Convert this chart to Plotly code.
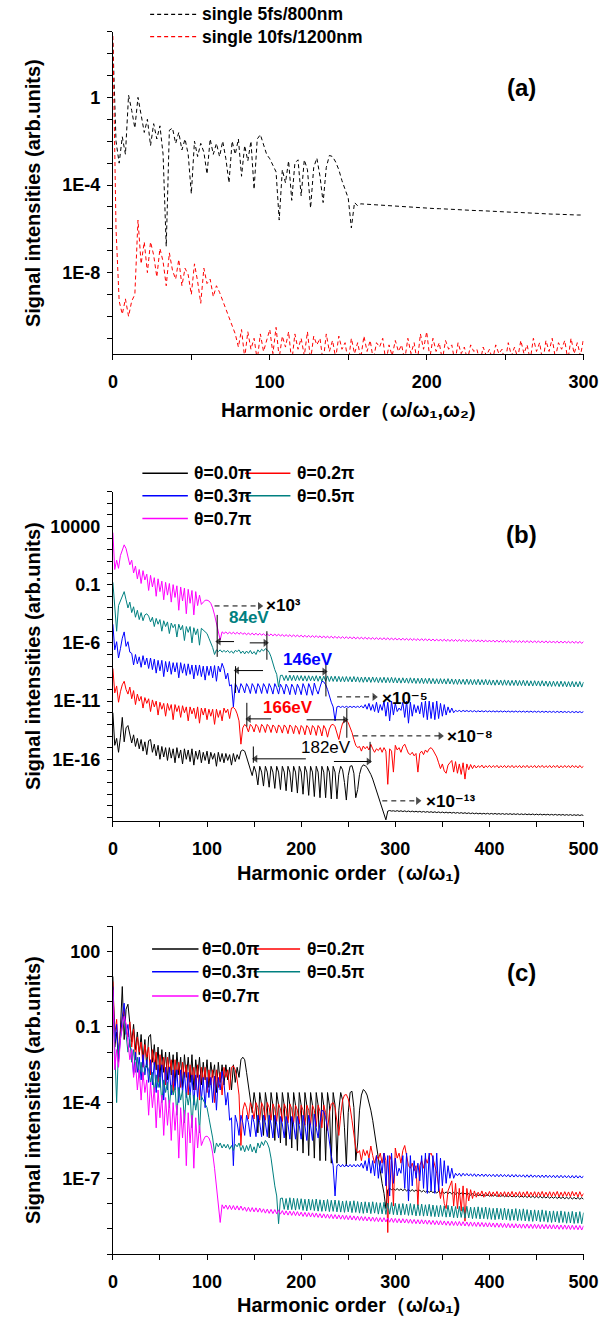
import numpy as np
import plotly.graph_objects as go

W, H = 616, 1319
FONT = "Arial, Liberation Sans, DejaVu Sans, Helvetica, sans-serif"

# ---------------- Panel (a): log10 of signal intensity, harmonic orders 0,2,4,...,300
a_names = ["single 5fs/800nm", "single 10fs/1200nm"]
a_colors = ["#000000", "#FF0000"]
a_lg_5fs = [
    2.5, -2.0, -3.0, -1.8, -2.6, 0.1, -0.6, -1.4, 0.0, -0.9,
    -1.6, -1.0, -2.2, -1.2, -1.9, -1.3, -2.6, -6.8, -1.5, -1.4,
    -2.1, -1.6, -2.4, -1.9, -2.6, -4.4, -2.0, -2.7, -2.1, -2.5,
    -3.5, -1.9, -2.6, -2.1, -2.7, -2.0, -2.8, -3.9, -2.0, -2.6,
    -1.9, -3.6, -2.2, -2.9, -2.0, -4.2, -1.9, -1.7, -2.2, -2.6,
    -2.8, -3.1, -3.4, -5.6, -3.3, -3.9, -2.9, -4.7, -3.0, -2.85,
    -4.5, -2.85, -3.3, -5.05, -3.2, -2.77, -3.6, -4.8, -3.2, -2.65,
    -2.7, -2.95, -3.3, -3.8, -4.2, -4.6, -5.96, -4.8, -4.95, -4.86,
    -4.87, -4.88, -4.9, -4.91, -4.92, -4.93, -4.94, -4.95, -4.96, -4.97,
    -4.97, -4.98, -4.99, -5.0, -5.01, -5.02, -5.02, -5.03, -5.04, -5.05,
    -5.05, -5.06, -5.07, -5.08, -5.08, -5.09, -5.1, -5.11, -5.11, -5.12,
    -5.13, -5.13, -5.14, -5.15, -5.15, -5.16, -5.17, -5.17, -5.18, -5.19,
    -5.19, -5.2, -5.21, -5.21, -5.22, -5.23, -5.23, -5.24, -5.25, -5.25,
    -5.26, -5.27, -5.27, -5.28, -5.29, -5.29, -5.3, -5.31, -5.31, -5.32,
    -5.33, -5.33, -5.34, -5.34, -5.35, -5.35, -5.36, -5.36, -5.37, -5.37,
    -5.38,
]
a_lg_10fs = [
    2.8, -6.0, -9.3, -9.9, -9.2, -10.0, -9.3, -9.0, -5.6, -7.6,
    -6.6, -8.0, -6.6, -7.2, -8.2, -6.9, -7.5, -8.6, -7.1, -7.9,
    -8.3, -7.4, -8.6, -7.8, -8.1, -9.0, -7.6, -8.4, -9.4, -7.8,
    -8.5, -8.3, -9.1, -8.6, -8.9, -9.3, -9.6, -10.0, -10.4, -10.8,
    -11.4, -10.6, -11.9, -10.7, -11.5, -11.0, -12.0, -10.8, -11.6, -11.1,
    -10.6, -11.7, -10.5, -11.9, -10.9, -11.4, -10.7, -12.1, -10.8, -11.5,
    -11.0, -11.8, -10.7, -12.0, -10.9, -11.3, -11.0, -12.1, -10.8, -11.6,
    -11.1, -11.9, -10.9, -11.5, -11.2, -12.1, -11.0, -11.7, -11.2, -11.9,
    -10.9, -11.6, -11.1, -12.0, -11.2, -11.4, -11.0, -12.1, -11.3, -11.8,
    -11.1, -11.6, -11.3, -12.0, -11.0, -11.7, -11.2, -12.1, -10.8, -11.5,
    -10.7, -11.9, -11.0, -11.6, -11.2, -12.0, -11.1, -11.5, -11.3, -12.1,
    -11.2, -11.7, -11.4, -12.0, -11.3, -11.6, -11.5, -12.1, -11.4, -11.8,
    -11.5, -12.0, -11.3, -11.7, -11.5, -12.1, -11.2, -11.8, -11.4, -11.9,
    -11.1, -11.7, -11.3, -12.0, -11.0, -11.6, -11.2, -12.1, -11.1, -11.6,
    -11.0, -11.9, -11.2, -11.5, -11.1, -12.0, -11.0, -11.7, -11.2, -11.8,
    -11.0,
]

# ---------------- Panels (b)/(c): log10 intensity, harmonic orders 0,2,...,500
theta_labels = ["θ=0.0π", "θ=0.2π", "θ=0.3π", "θ=0.5π", "θ=0.7π"]
theta_colors = ["#000000", "#FF0000", "#0000FF", "#008080", "#FF00FF"]
# decade shift used for each curve in panel (b)
b_shift_decades = [-13, -9, -5, -1, 3]

lg_theta00 = [
    1.0, -1.8, -1.2, -2.4, -1.1, 0.6, -1.5, -0.3, -0.1, -0.9,
    -1.6, -0.9, -1.9, -1.2, -2.1, -1.3, -2.3, -1.5, -2.6, -1.4,
    -1.3, -2.4, -1.7, -2.7, -1.8, -3.0, -1.9, -2.8, -2.0, -3.1,
    -2.0, -2.9, -2.1, -3.3, -2.0, -2.9, -2.2, -3.4, -2.1, -3.0,
    -2.2, -3.2, -2.1, -3.5, -2.3, -3.0, -2.2, -3.3, -2.4, -3.1,
    -2.3, -3.4, -2.4, -3.0, -2.5, -3.6, -2.4, -3.2, -2.5, -3.3,
    -2.5, -3.1, -2.6, -3.5, -2.5, -3.2, -2.6, -3.0, -2.3, -2.2,
    -2.3, -2.8, -3.4, -4.0, -4.4, -3.6, -4.1, -5.2, -3.6, -4.1,
    -5.3, -3.6, -4.1, -5.4, -3.6, -4.1, -5.5, -3.6, -4.1, -5.6,
    -3.6, -4.1, -5.7, -3.6, -4.1, -5.8, -3.6, -4.1, -5.9, -3.6,
    -4.1, -6.0, -3.6, -4.1, -6.1, -3.6, -4.1, -6.2, -3.6, -4.1,
    -6.3, -3.6, -4.1, -6.3, -3.6, -4.1, -6.4, -3.6, -4.1, -6.4,
    -4.3, -3.6, -3.9, -5.0, -6.5, -4.4, -3.6, -3.55, -4.2, -6.3,
    -5.6, -4.3, -3.7, -3.48, -3.55, -3.7, -3.95, -4.3, -4.7, -5.2,
    -5.7, -6.2, -6.8, -7.2, -7.6, -8.2, -7.45, -7.4, -7.45, -7.42,
    -7.47, -7.41, -7.48, -7.42, -7.49, -7.43, -7.5, -7.44, -7.51, -7.45,
    -7.52, -7.46, -7.53, -7.47, -7.54, -7.48, -7.55, -7.49, -7.56, -7.5,
    -7.57, -7.51, -7.58, -7.52, -7.59, -7.53, -7.6, -7.54, -7.61, -7.55,
    -7.62, -7.56, -7.63, -7.57, -7.64, -7.58, -7.65, -7.59, -7.66, -7.6,
    -7.67, -7.61, -7.68, -7.62, -7.69, -7.63, -7.7, -7.64, -7.7, -7.64,
    -7.71, -7.65, -7.71, -7.65, -7.72, -7.66, -7.72, -7.66, -7.73, -7.67,
    -7.73, -7.67, -7.74, -7.68, -7.74, -7.68, -7.75, -7.69, -7.75, -7.69,
    -7.76, -7.7, -7.76, -7.7, -7.77, -7.71, -7.77, -7.71, -7.78, -7.72,
    -7.78, -7.72, -7.79, -7.73, -7.79, -7.73, -7.8, -7.74, -7.8, -7.74,
    -7.81, -7.75, -7.81, -7.75, -7.82, -7.76, -7.82, -7.76, -7.83, -7.77,
    -7.83,
]
lg_theta02 = [
    0.8, -1.3, -0.7, -2.1, -1.2, -0.6, -0.3, -1.0, -1.4, -0.8,
    -1.8, -1.1, -2.3, -1.4, -2.0, -1.6, -2.6, -1.7, -2.2, -1.8,
    -2.9, -1.9, -2.5, -2.0, -3.2, -2.1, -2.7, -2.2, -3.3, -2.2,
    -2.8, -2.3, -3.6, -2.3, -2.9, -2.4, -3.4, -2.4, -3.0, -2.5,
    -3.7, -2.5, -3.1, -2.6, -3.5, -2.5, -3.9, -2.6, -3.2, -2.6,
    -3.6, -2.7, -3.3, -2.7, -4.0, -2.7, -3.4, -2.8, -3.7, -2.6,
    -3.0, -2.7, -3.5, -2.6, -2.55, -2.7, -3.1, -3.7, -5.7, -4.3,
    -4.0, -4.2, -4.65, -4.0, -4.2, -4.65, -4.0, -4.2, -4.7, -4.0,
    -4.2, -4.7, -4.0, -4.2, -4.7, -4.05, -4.25, -4.75, -4.05, -4.25,
    -4.75, -4.05, -4.25, -4.8, -4.05, -4.25, -4.8, -4.1, -4.3, -4.85,
    -4.1, -4.3, -4.9, -4.1, -4.3, -4.9, -4.1, -4.3, -4.95, -4.1,
    -4.35, -5.0, -4.1, -4.4, -5.1, -4.4, -4.05, -4.0, -4.2, -4.8,
    -5.3, -4.5, -3.9, -3.7, -3.68, -3.85, -4.2, -4.7, -5.3, -5.8,
    -6.0, -5.9, -6.3, -5.86, -6.1, -5.9, -6.2, -5.72, -6.1, -6.4,
    -6.1, -6.25, -6.0, -6.4, -6.0, -6.3, -9.15, -6.1, -6.3, -8.1,
    -5.8, -6.2, -6.0, -6.4, -5.9, -5.7, -6.1, -6.5, -6.6, -6.4,
    -6.7, -6.5, -8.1, -6.5, -6.3, -6.6, -6.2, -6.4, -6.1, -6.0,
    -6.2, -6.5, -6.8, -7.3, -7.8, -7.4, -8.0, -8.2, -7.5, -7.3,
    -7.1, -8.1, -7.2, -8.2, -7.4, -8.3, -7.3, -8.7, -7.4, -7.9,
    -7.45, -7.8, -7.5, -7.75, -7.55, -7.7, -7.5, -7.75, -7.55, -7.7,
    -7.52, -7.72, -7.54, -7.7, -7.52, -7.74, -7.55, -7.71, -7.53, -7.73,
    -7.54, -7.71, -7.52, -7.73, -7.55, -7.7, -7.53, -7.74, -7.54, -7.71,
    -7.52, -7.73, -7.55, -7.71, -7.53, -7.74, -7.54, -7.7, -7.52, -7.72,
    -7.55, -7.71, -7.53, -7.73, -7.54, -7.7, -7.52, -7.74, -7.55, -7.72,
    -7.53, -7.71, -7.54, -7.73, -7.52, -7.7, -7.55, -7.74, -7.53, -7.72,
    -7.6,
]
lg_theta03 = [
    0.6, -1.6, -0.9, -2.3, -1.5, -0.6, -0.06, -1.3, -0.9, -1.8,
    -1.9, -2.9, -2.0, -2.8, -2.2, -3.1, -2.1, -2.9, -2.3, -3.2,
    -2.3, -3.3, -2.4, -3.6, -2.5, -3.4, -2.5, -3.9, -2.6, -3.5,
    -2.6, -3.7, -2.7, -3.5, -2.7, -4.0, -2.7, -3.6, -2.8, -3.8,
    -2.8, -3.7, -2.9, -4.1, -2.9, -3.8, -2.9, -3.9, -3.0, -4.2,
    -3.0, -3.8, -3.0, -4.0, -2.95, -4.3, -3.0, -3.5, -2.76, -3.2,
    -4.1, -3.6, -4.7, -4.6, -6.5, -4.5, -4.8, -5.3, -4.5, -4.8,
    -5.3, -4.5, -4.8, -5.35, -4.5, -4.8, -5.35, -4.5, -4.8, -5.35,
    -4.5, -4.8, -5.35, -4.5, -4.85, -5.4, -4.5, -4.85, -5.4, -4.55,
    -4.85, -5.4, -4.55, -4.85, -5.45, -4.55, -4.85, -5.45, -4.55, -4.9,
    -5.45, -4.5, -4.9, -5.5, -4.5, -4.9, -5.5, -4.45, -5.0, -5.4,
    -4.8, -4.3, -4.35, -4.6, -5.0, -5.6, -6.1, -6.5, -7.7, -6.5,
    -6.45, -6.55, -6.45, -6.55, -6.45, -6.55, -6.45, -6.55, -6.45, -6.55,
    -6.45, -6.55, -6.4, -6.6, -6.3, -6.7, -6.2, -6.8, -6.3, -6.9,
    -6.1, -7.0, -6.3, -6.8, -6.0, -7.3, -6.1, -7.7, -6.0, -7.2,
    -6.2, -6.9, -6.6, -6.8, -6.1, -7.4, -6.0, -7.9, -6.1, -7.3,
    -6.3, -7.0, -6.4, -7.1, -6.1, -7.4, -6.0, -7.6, -6.0, -7.5,
    -6.1, -7.6, -6.0, -7.5, -6.2, -7.3, -6.3, -7.2, -6.5, -7.0,
    -6.6, -7.0, -6.8, -6.9, -6.8, -6.92, -6.8, -6.9, -6.81, -6.91,
    -6.82, -6.92, -6.82, -6.93, -6.83, -6.92, -6.83, -6.93, -6.83, -6.93,
    -6.84, -6.93, -6.84, -6.94, -6.84, -6.94, -6.84, -6.94, -6.85, -6.94,
    -6.85, -6.95, -6.85, -6.95, -6.85, -6.95, -6.86, -6.95, -6.86, -6.96,
    -6.86, -6.96, -6.86, -6.96, -6.87, -6.96, -6.87, -6.97, -6.87, -6.97,
    -6.87, -6.97, -6.88, -6.97, -6.88, -6.98, -6.88, -6.98, -6.88, -6.98,
    -6.89, -6.98, -6.89, -6.99, -6.89, -6.99, -6.89, -6.99, -6.9, -6.99,
    -6.9,
]
lg_theta05 = [
    0.2, -2.4, -4.0, -1.8, -1.4, -1.0, -0.6, -1.3, -2.0, -1.5,
    -2.4, -1.9, -2.8, -2.2, -3.0, -2.4, -3.1, -2.6, -2.5, -2.7,
    -3.2, -2.8, -3.6, -2.9, -3.4, -3.0, -4.0, -3.1, -3.6, -3.2,
    -4.2, -3.3, -3.7, -3.4, -4.5, -3.4, -3.9, -3.5, -4.8, -3.6,
    -4.1, -3.6, -5.0, -3.7, -4.3, -3.8, -5.2, -3.75, -3.9, -4.0,
    -4.2, -4.6, -5.0, -5.4, -6.0, -5.6, -5.75, -5.6, -5.8, -5.65,
    -5.8, -5.65, -5.85, -5.7, -5.9, -5.65, -5.75, -5.6, -5.9, -5.7,
    -5.95, -5.7, -5.9, -5.65, -5.95, -5.75, -6.0, -5.6, -5.8, -5.55,
    -5.7, -5.5, -5.6, -5.8, -6.2, -6.8, -7.3, -7.7, -8.8, -7.8,
    -7.78, -8.23, -7.8, -8.25, -7.77, -8.24, -7.79, -8.26, -7.8, -8.23,
    -7.81, -8.27, -7.83, -8.29, -7.82, -8.26, -7.84, -8.28, -7.82, -8.3,
    -7.85, -8.31, -7.86, -8.3, -7.84, -8.32, -7.87, -8.31, -7.86, -8.33,
    -7.88, -8.34, -7.9, -8.35, -7.89, -8.33, -7.91, -8.36, -7.89, -8.35,
    -7.92, -8.38, -7.94, -8.39, -7.93, -8.37, -7.95, -8.4, -7.93, -8.38,
    -7.96, -8.42, -7.97, -8.41, -7.95, -8.43, -7.98, -8.42, -7.96, -8.44,
    -7.99, -8.45, -8.01, -8.46, -8.0, -8.44, -8.02, -8.47, -8.0, -8.46,
    -8.03, -8.49, -8.04, -8.48, -8.02, -8.5, -8.05, -8.49, -8.03, -8.51,
    -8.06, -8.52, -8.08, -8.53, -8.07, -8.51, -8.09, -8.54, -8.07, -8.53,
    -8.1, -8.56, -8.12, -8.57, -8.11, -8.55, -8.13, -8.58, -8.11, -8.57,
    -8.14, -8.6, -8.15, -8.59, -8.13, -8.61, -8.16, -8.6, -8.14, -8.62,
    -8.17, -8.63, -8.19, -8.64, -8.18, -8.62, -8.2, -8.65, -8.18, -8.64,
    -8.21, -8.67, -8.22, -8.66, -8.2, -8.68, -8.23, -8.67, -8.21, -8.69,
    -8.24, -8.7, -8.26, -8.71, -8.25, -8.69, -8.27, -8.72, -8.25, -8.71,
    -8.28, -8.74, -8.3, -8.75, -8.29, -8.73, -8.31, -8.76, -8.29, -8.75,
    -8.32, -8.78, -8.33, -8.77, -8.31, -8.79, -8.34, -8.78, -8.32, -8.8,
    -8.36,
]
lg_theta07 = [
    0.47, -2.7, -1.9, -2.6, -1.5, -1.1, -0.58, -0.9, -1.7, -2.3,
    -1.9, -3.0, -2.4, -3.5, -2.7, -3.9, -2.8, -3.6, -3.1, -4.5,
    -3.2, -4.2, -3.4, -5.0, -3.5, -4.6, -3.7, -5.3, -3.8, -4.9,
    -3.9, -5.5, -4.0, -5.1, -4.1, -6.2, -4.2, -5.4, -4.3, -6.5,
    -4.4, -5.6, -4.5, -6.6, -4.6, -5.8, -4.9, -5.7, -5.5, -5.35,
    -5.33, -5.4, -5.6, -6.0, -6.6, -7.3, -7.9, -8.75, -8.05, -8.2,
    -8.06, -8.23, -8.07, -8.24, -8.08, -8.25, -8.09, -8.26, -8.1, -8.27,
    -8.14, -8.31, -8.15, -8.32, -8.16, -8.33, -8.17, -8.34, -8.18, -8.35,
    -8.21, -8.38, -8.22, -8.39, -8.23, -8.4, -8.24, -8.41, -8.25, -8.42,
    -8.28, -8.45, -8.29, -8.46, -8.3, -8.47, -8.31, -8.48, -8.32, -8.49,
    -8.34, -8.51, -8.35, -8.52, -8.36, -8.53, -8.37, -8.54, -8.38, -8.55,
    -8.4, -8.57, -8.41, -8.58, -8.42, -8.59, -8.43, -8.6, -8.44, -8.61,
    -8.45, -8.62, -8.46, -8.63, -8.47, -8.64, -8.48, -8.65, -8.49, -8.66,
    -8.5, -8.67, -8.51, -8.68, -8.52, -8.69, -8.53, -8.7, -8.54, -8.71,
    -8.55, -8.72, -8.56, -8.73, -8.56, -8.73, -8.57, -8.74, -8.58, -8.75,
    -8.59, -8.76, -8.6, -8.77, -8.6, -8.77, -8.61, -8.78, -8.62, -8.79,
    -8.63, -8.8, -8.64, -8.81, -8.64, -8.81, -8.65, -8.82, -8.66, -8.83,
    -8.67, -8.84, -8.68, -8.85, -8.68, -8.85, -8.69, -8.86, -8.7, -8.87,
    -8.7, -8.87, -8.71, -8.88, -8.71, -8.88, -8.72, -8.89, -8.73, -8.9,
    -8.73, -8.9, -8.74, -8.91, -8.74, -8.91, -8.75, -8.92, -8.76, -8.93,
    -8.76, -8.93, -8.77, -8.94, -8.77, -8.94, -8.78, -8.95, -8.79, -8.96,
    -8.79, -8.96, -8.8, -8.97, -8.8, -8.97, -8.81, -8.98, -8.81, -8.98,
    -8.81, -8.98, -8.82, -8.99, -8.82, -8.99, -8.83, -9.0, -8.83, -9.0,
    -8.83, -9.0, -8.84, -9.01, -8.84, -9.01, -8.85, -9.02, -8.85, -9.02,
    -8.85, -9.02, -8.86, -9.03, -8.86, -9.03, -8.87, -9.04, -8.87, -9.05,
    -8.88,
]
bc_series = [lg_theta00, lg_theta02, lg_theta03, lg_theta05, lg_theta07]

# ---------------- Panel (b) annotations (harmonic order, log10 value in panel b)
b_energy_labels = [("84eV", 144.4, -3.86, "#008080", "bold"),
                   ("146eV", 207.1, -7.46, "#0000FF", "bold"),
                   ("166eV", 186.5, -11.58, "#FF0000", "bold"),
                   ("182eV", 226.6, -15.02, "#000000", "normal")]
b_bars = [(110.8, -3.6, -7.2), (163.6, -5.0, -7.45),
          (130.3, -8.0, -10.3), (226.3, -7.7, -10.6),
          (142.3, -11.15, -13.2), (248.5, -11.6, -14.15),
          (149.2, -14.9, -16.3), (273.2, -14.5, -16.3)]
b_solid_arrows = [(128.7, 112.5, -5.89), (145.4, 162.0, -6.0),
                  (159.5, 132.0, -8.38), (186.5, 224.5, -8.47),
                  (168.0, 144.5, -12.53), (205.8, 246.5, -12.61),
                  (205.0, 151.5, -15.96), (234.8, 271.5, -16.19)]
b_dashed_arrows = [(108.0, 156.0, -2.83), (238.2, 277.7, -10.64),
                   (255.4, 347.9, -13.99), (286.2, 324.0, -19.57)]
b_factor_labels = [("×10³", 160.5, -2.75), ("×10⁻⁵", 284.0, -10.75),
                   ("×10⁻⁸", 353.0, -14.05), ("×10⁻¹³", 330.5, -19.62)]

# ---------------- geometry
XD = [111.5 / W, 598.0 / W]
def py2f(py):
    return 1 - py / H
def px2f(px):
    return px / W

fig = go.Figure()

def orders_for(vals):
    return np.arange(len(vals)) * 2

# Panel (a)
for name, col, vals in zip(a_names, a_colors, [a_lg_5fs, a_lg_10fs]):
    fig.add_trace(go.Scatter(x=orders_for(vals), y=10.0 ** np.array(vals), mode="lines",
                             name=name, line=dict(color=col, width=1, dash="4px,3px"),
                             xaxis="x", yaxis="y"))

# Panel (b): shifted curves
for lab, col, vals, sh in zip(theta_labels, theta_colors, bc_series, b_shift_decades):
    fig.add_trace(go.Scatter(x=orders_for(vals), y=10.0 ** (np.array(vals) + sh), mode="lines",
                             name=lab, line=dict(color=col, width=1), xaxis="x2", yaxis="y2"))
# Panel (c): raw curves
for lab, col, vals in zip(theta_labels, theta_colors, bc_series):
    fig.add_trace(go.Scatter(x=orders_for(vals), y=10.0 ** np.array(vals), mode="lines",
                             name=lab, line=dict(color=col, width=1), xaxis="x3", yaxis="y3"))

# Panel (b) marker bars
for (xb, y0, y1) in b_bars:
    fig.add_trace(go.Scatter(x=[xb, xb], y=[10.0 ** y0, 10.0 ** y1], mode="lines",
                             line=dict(color="black", width=1), xaxis="x2", yaxis="y2",
                             hoverinfo="skip"))

def arrow_trace(x0, x1, yl, dash):
    sym = "triangle-right" if x1 > x0 else "triangle-left"
    return go.Scatter(x=[x0, x1], y=[10.0 ** yl, 10.0 ** yl], mode="lines+markers",
                      line=dict(color="black", width=1, dash=dash),
                      marker=dict(size=[0, 7], symbol=sym, color="black",
                                  line=dict(width=0)),
                      xaxis="x2", yaxis="y2", hoverinfo="skip")

for (x0, x1, yl) in b_solid_arrows:
    fig.add_trace(arrow_trace(x0, x1, yl, "solid"))
for (x0, x1, yl) in b_dashed_arrows:
    fig.add_trace(arrow_trace(x0, x1, yl, "5px,4px"))

annotations = []
for (t, xx, yl, col, wt) in b_energy_labels:
    annotations.append(dict(x=xx, y=yl, xref="x2", yref="y2", text=t, showarrow=False,
                            font=dict(family=FONT, size=17, color=col, weight=wt),
                            xanchor="center", yanchor="middle"))
for (t, xx, yl) in b_factor_labels:
    annotations.append(dict(x=xx, y=yl, xref="x2", yref="y2", text=t, showarrow=False,
                            font=dict(family=FONT, size=17, color="black", weight="bold"),
                            xanchor="left", yanchor="middle"))

# Panel labels
for t, py in [("(a)", 88), ("(b)", 534), ("(c)", 972)]:
    annotations.append(dict(x=px2f(534), y=py2f(py), xref="paper", yref="paper", text=t,
                            showarrow=False, font=dict(family=FONT, size=24, color="black", weight="bold"),
                            xanchor="center", yanchor="middle"))

# Axis titles
ytitle = "Signal intensities (arb.units)"
for pyc in [193, 656, 1090]:
    annotations.append(dict(x=px2f(29), y=py2f(pyc), xref="paper", yref="paper", text=ytitle,
                            textangle=-90, showarrow=False,
                            font=dict(family=FONT, size=20, color="black", weight="bold"),
                            xanchor="center", yanchor="middle"))
xtitles = [("Harmonic order（ω/ω₁,ω₂)", 410),
           ("Harmonic order（ω/ω₁)", 873),
           ("Harmonic order（ω/ω₁)", 1305)]
for t, pyc in xtitles:
    annotations.append(dict(x=px2f(355), y=py2f(pyc), xref="paper", yref="paper", text=t,
                            showarrow=False, font=dict(family=FONT, size=20, color="black", weight="bold"),
                            xanchor="center", yanchor="middle"))

# Custom legends
shapes = []
leg_font = dict(family=FONT, size=17.5, color="black", weight="bold")
for (name, col, py) in [(a_names[0], a_colors[0], 14.3), (a_names[1], a_colors[1], 36.7)]:
    shapes.append(dict(type="line", xref="paper", yref="paper", x0=px2f(150), x1=px2f(198),
                       y0=py2f(py), y1=py2f(py), line=dict(color=col, width=1.2, dash="4px,3px")))
    annotations.append(dict(x=px2f(202), y=py2f(py), xref="paper", yref="paper", text=name,
                            showarrow=False, font=leg_font, xanchor="left", yanchor="middle"))

def theta_legend(rows_py, c1_line, c1_text, c2_line, c2_text):
    slots = [(0, 0), (0, 1), (1, 0), (1, 1), (2, 0)]
    for i, (r, c) in enumerate(slots):
        py = rows_py[r]
        l0, l1 = (c1_line if c == 0 else c2_line)
        tx = c1_text if c == 0 else c2_text
        shapes.append(dict(type="line", xref="paper", yref="paper", x0=px2f(l0), x1=px2f(l1),
                           y0=py2f(py), y1=py2f(py), line=dict(color=theta_colors[i], width=1.6)))
        annotations.append(dict(x=px2f(tx), y=py2f(py), xref="paper", yref="paper",
                                text=theta_labels[i], showarrow=False, font=leg_font,
                                xanchor="left", yanchor="middle"))

theta_legend([473.3, 495.8, 518.5], (142, 189), 193, (248, 295), 300)
theta_legend([949, 971.7, 996], (152, 200), 202, (257, 305), 310)

tickfont = dict(family=FONT, size=18, color="black", weight="bold")
common = dict(showline=True, linecolor="black", linewidth=1, ticks="outside", ticklen=5,
              tickwidth=1, tickcolor="black", showgrid=False, zeroline=False,
              tickfont=tickfont, mirror=False)
minor_style = dict(ticks="outside", ticklen=5, tickwidth=1, tickcolor="black", showgrid=False)

def xaxis_cfg(xmax, anchor):
    major = list(range(0, xmax + 1, 100))
    minor = list(range(50, xmax, 100))
    return dict(domain=XD, range=[0, xmax], anchor=anchor, tickmode="array", tickvals=major,
                ticktext=[str(v) for v in major], ticklabelstandoff=6,
                minor=dict(tickmode="array", tickvals=minor, **minor_style), **common)

def yaxis_cfg(dom, rng, lo, hi, labels, anchor):
    decs = list(range(lo, hi + 1))
    major = [d for d in decs if d in labels]
    minor = [10.0 ** d for d in decs if d not in labels]
    return dict(domain=dom, type="log", range=rng, anchor=anchor, tickmode="array",
                tickvals=[10.0 ** d for d in major], ticktext=[labels[d] for d in major],
                ticklabelstandoff=3,
                minor=dict(tickmode="array", tickvals=minor, **minor_style), **common)

fig.update_layout(
    width=W, height=H, margin=dict(l=0, r=0, t=0, b=0),
    paper_bgcolor="white", plot_bgcolor="white", showlegend=False,
    xaxis=xaxis_cfg(300, "y"),
    yaxis=yaxis_cfg([py2f(354.3), py2f(31.7)], [-11.73, 3.0], -11, 3,
                    {0: "1", -4: "1E-4", -8: "1E-8"}, "x"),
    xaxis2=xaxis_cfg(500, "y2"),
    yaxis2=yaxis_cfg([py2f(821), py2f(491.5)], [-21.3, 7.0], -21, 7,
                     {4: "10000", -1: "0.1", -6: "1E-6", -11: "1E-11", -16: "1E-16"}, "x2"),
    xaxis3=xaxis_cfg(500, "y3"),
    yaxis3=yaxis_cfg([py2f(1254), py2f(926)], [-10.0, 3.0], -10, 3,
                     {2: "100", -1: "0.1", -4: "1E-4", -7: "1E-7"}, "x3"),
    annotations=annotations, shapes=shapes,
)

fig.write_html("out.html")
